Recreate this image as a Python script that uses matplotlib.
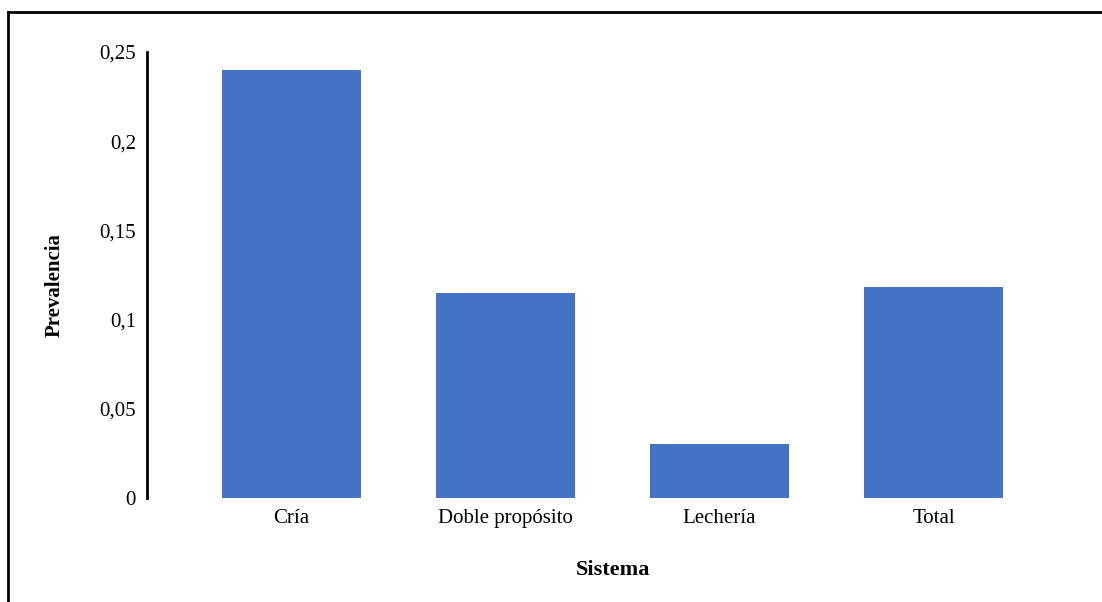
import matplotlib as mpl
mpl.use('Agg')
from matplotlib import pyplot as plt
from matplotlib.lines import Line2D

plt.rcParams['font.family'] = ['Liberation Serif', 'DejaVu Serif']

categories = ['Cría', 'Doble propósito', 'Lechería', 'Total']
prevalence = [0.24, 0.115, 0.03, 0.118]
yticks = [0, 0.05, 0.1, 0.15, 0.2, 0.25]
ytick_labels = ['0', '0,05', '0,1', '0,15', '0,2', '0,25']

W, H = 1102, 602
fig = plt.figure(figsize=(W / 100, H / 100), dpi=100)
ax = fig.add_axes([147 / W, 1 - 498 / H, (1078 - 147) / W, (498 - 52) / H])

x = range(len(categories))
ax.bar(x, prevalence, width=0.65, color='#4472C4', zorder=2)

ax.set_xlim(-0.675, len(categories) - 1 + 0.675)
ax.set_ylim(0, 0.25)
ax.set_xticks(list(x))
ax.set_xticklabels(categories, fontsize=15)
ax.set_yticks(yticks)
ax.set_yticklabels(ytick_labels, fontsize=15)
ax.tick_params(axis='both', length=0)
ax.tick_params(axis='y', pad=8)
ax.tick_params(axis='x', pad=8)

for side in ['top', 'right', 'bottom']:
    ax.spines[side].set_visible(False)
ax.spines['left'].set_linewidth(2)

fig.text(55 / W, 1 - 285 / H, 'Prevalencia', rotation=90, fontsize=15,
         fontweight='bold', ha='center', va='center')
fig.text(613 / W, 1 - 570 / H, 'Sistema', fontsize=16,
         fontweight='bold', ha='center', va='center')

# open frame around the chart (top and left edges)
fig.add_artist(Line2D([8 / W, 1], [1 - 12 / H, 1 - 12 / H], color='black', lw=2,
                      transform=fig.transFigure))
fig.add_artist(Line2D([8 / W, 8 / W], [0, 1 - 12 / H], color='black', lw=2,
                      transform=fig.transFigure))

plt.savefig('out.png', dpi=100)
plt.close()
